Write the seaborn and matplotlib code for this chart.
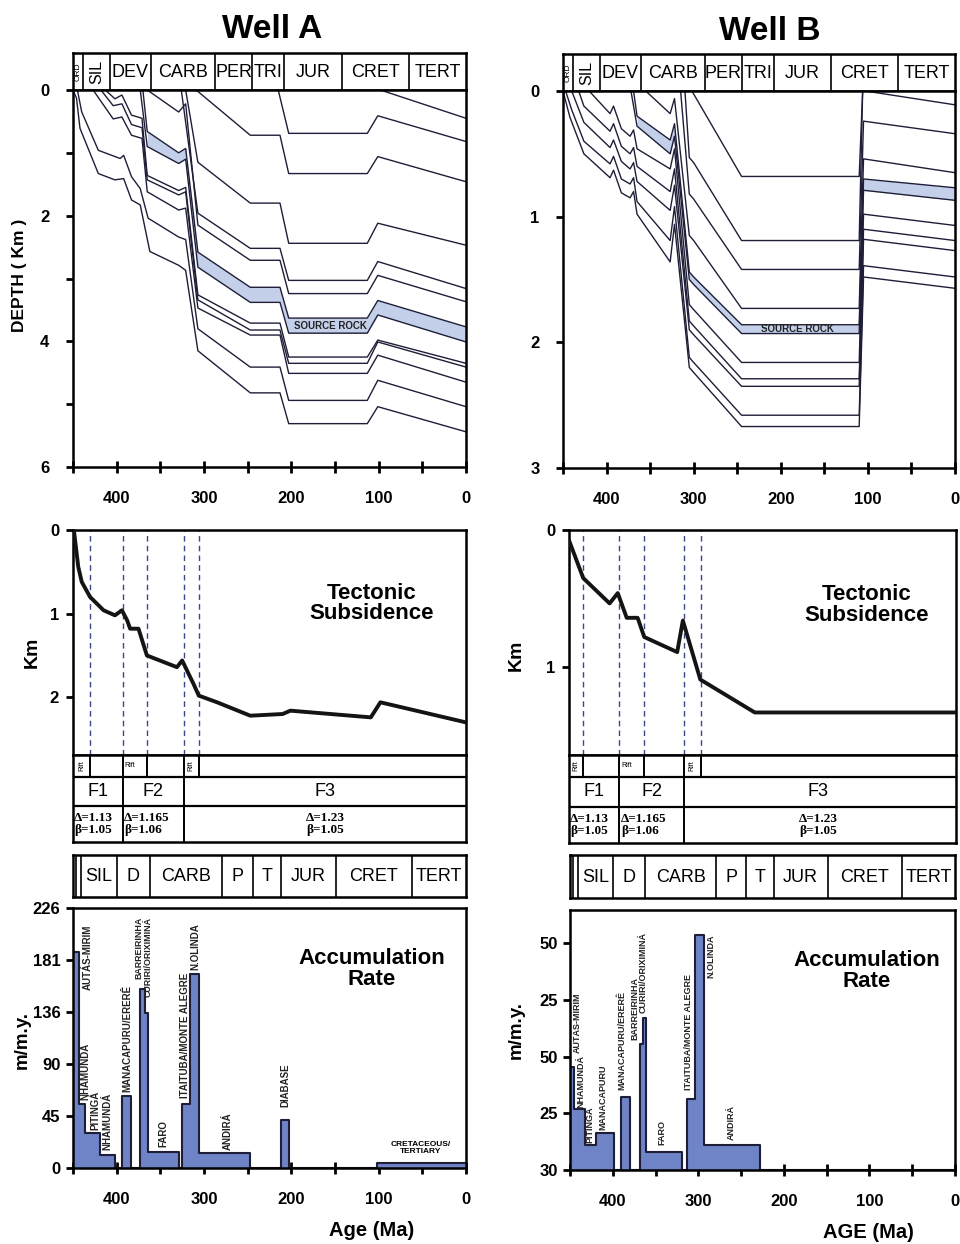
"""
Burial history, tectonic subsidence and accumulation rate for two wells
"""

import numpy as np
import pandas as pd
import matplotlib
matplotlib.use("Agg")
import matplotlib.pyplot as plt
import seaborn as sns

W, H = 960, 1244

# ---------------- data ----------------
# period strips (Ma)
top_edges = [450, 438, 408, 361, 287, 245, 208, 142, 65, 0]
top_names = ["ORD", "SIL", "DEV", "CARB", "PER", "TRI", "JUR", "CRET", "TERT"]
bot_edges = [450, 447, 441, 400, 362, 279, 244, 212, 149, 62, 0]
bot_names = ["", "", "SIL", "D", "CARB", "P", "T", "JUR", "CRET", "TERT"]

# burial history Well A: one list of ages and one of depths (km) per horizon
well_a_ages = [
    [98, 0],
    [215, 203, 113, 101, 0],
    [309, 247, 213, 203, 113, 101, 0],
    [321, 307, 247, 213, 203, 113, 101, 0],
    [326, 307, 247, 213, 203, 113, 101, 0],
    [365, 329, 321, 307, 247, 213, 203, 113, 101, 0],
    [370, 365, 329, 321, 307, 247, 213, 203, 113, 101, 0],
    [373, 365, 329, 321, 307, 247, 213, 203, 113, 101, 0],
    [413, 402, 394, 383, 371, 365, 329, 321, 307, 247, 213, 203, 113, 101, 0],
    [418, 404, 394, 383, 371, 365, 329, 321, 307, 247, 213, 203, 113, 101, 0],
    [427, 404, 394, 383, 371, 365, 329, 321, 307, 247, 213, 203, 113, 101, 0],
    [445, 440, 421, 396, 392, 383, 373, 364, 329, 321, 307, 247, 213, 203, 113, 101, 0],
    [450, 446, 442, 421, 402, 392, 383, 373, 362, 329, 321, 307, 247, 213, 203, 113, 101, 0],
]
well_a_depths = [
    [0, 0.45],
    [0, 0.69, 0.69, 0.41, 0.82],
    [0, 0.72, 0.72, 1.33, 1.33, 1.06, 1.46],
    [0, 1.15, 1.80, 1.80, 2.44, 2.44, 2.12, 2.47],
    [0, 1.96, 2.52, 2.52, 3.03, 3.03, 2.73, 3.16],
    [0, 0.35, 0.22, 2.15, 2.71, 2.71, 3.24, 3.24, 2.95, 3.37],
    [0, 0.66, 1.00, 0.93, 2.58, 3.14, 3.14, 3.63, 3.63, 3.35, 3.77],
    [0, 0.90, 1.17, 1.10, 2.82, 3.38, 3.38, 3.87, 3.87, 3.58, 4.01],
    [0, 0.14, 0.08, 0.40, 0.45, 1.36, 1.60, 1.55, 3.26, 3.71, 3.71, 4.25, 4.25, 3.98, 4.35],
    [0, 0.25, 0.22, 0.55, 0.60, 1.43, 1.67, 1.62, 3.34, 3.82, 3.82, 4.35, 4.35, 4.01, 4.41],
    [0, 0.46, 0.43, 0.72, 0.77, 1.62, 1.91, 1.88, 3.47, 3.90, 3.90, 4.51, 4.51, 4.22, 4.65],
    [0, 0.35, 0.96, 1.09, 1.04, 1.38, 1.57, 2.04, 2.34, 2.38, 3.80, 4.41, 4.41, 4.94, 4.94, 4.62, 5.04],
    [0, 0.13, 0.61, 1.33, 1.43, 1.41, 1.75, 1.83, 2.57, 2.79, 2.87, 4.15, 4.82, 4.82, 5.31, 5.31, 5.04, 5.44],
]
well_a_source = (6, 7)   # top / base of source rock

well_b_ages = [
    [103, 0],
    [302, 245, 110, 106],
    [310, 305, 300, 245, 110, 106],
    [315, 305, 300, 245, 110, 105, 0],
    [355, 327, 322, 305, 300, 245, 110, 105, 0],
    [369, 365, 327, 322, 305, 300, 245, 110, 105, 0],
    [372, 365, 327, 322, 305, 300, 245, 110, 105, 0],
    [420, 396, 392, 383, 373, 369, 365, 327, 322, 305, 300, 245, 110, 105, 0],
    [432, 426, 396, 392, 383, 373, 369, 365, 327, 322, 305, 300, 245, 110, 105, 0],
    [440, 426, 396, 392, 383, 373, 369, 365, 327, 322, 305, 300, 245, 110, 105, 0],
    [447, 440, 426, 396, 392, 383, 373, 369, 365, 327, 322, 305, 300, 245, 110, 105, 0],
    [450, 442, 426, 396, 392, 383, 373, 369, 365, 327, 322, 305, 300, 245, 110, 105, 0],
]
well_b_depths = [
    [0, 0.11],
    [0, 0.68, 0.68, 0],
    [0, 0.53, 0.57, 1.19, 1.19, 0],
    [0, 0.82, 0.86, 1.42, 1.42, 0.24, 0.34],
    [0, 0.18, 0.06, 1.15, 1.19, 1.73, 1.73, 0.54, 0.65],
    [0, 0.20, 0.39, 0.26, 1.44, 1.48, 1.86, 1.86, 0.70, 0.77],
    [0, 0.28, 0.50, 0.36, 1.50, 1.54, 1.93, 1.93, 0.79, 0.87],
    [0, 0.18, 0.12, 0.30, 0.36, 0.31, 0.46, 0.62, 0.46, 1.70, 1.74, 2.16, 2.16, 0.98, 1.07],
    [0, 0.12, 0.32, 0.26, 0.44, 0.50, 0.45, 0.60, 0.80, 0.62, 1.83, 1.87, 2.29, 2.29, 1.10, 1.19],
    [0, 0.25, 0.45, 0.39, 0.56, 0.62, 0.57, 0.72, 0.95, 0.75, 1.90, 1.94, 2.35, 2.35, 1.18, 1.27],
    [0, 0.15, 0.40, 0.58, 0.52, 0.70, 0.74, 0.69, 0.88, 1.19, 0.92, 2.12, 2.16, 2.58, 2.58, 1.39, 1.48],
    [0, 0.21, 0.50, 0.69, 0.63, 0.81, 0.85, 0.80, 0.98, 1.36, 1.06, 2.20, 2.24, 2.67, 2.67, 1.48, 1.57],
]
well_b_source = (5, 6)

# tectonic subsidence (km)
tect_a_age = [449, 444, 440, 430.5, 415, 402, 394, 388, 384.6, 375, 365.4, 331, 325, 317.6,
              312, 306, 285, 247, 210, 201, 109, 98, 0]
tect_a_km = [0, 0.44, 0.62, 0.80, 0.96, 1.02, 0.96, 1.08, 1.18, 1.18, 1.50, 1.64, 1.56, 1.72,
             1.84, 1.98, 2.06, 2.22, 2.20, 2.16, 2.24, 2.06, 2.30]
tect_b_age = [449.7, 433.5, 402.8, 393.3, 382.9, 370.2, 362.5, 324.2, 317.6, 297.3, 234, 0]
tect_b_km = [0.08, 0.35, 0.535, 0.46, 0.64, 0.64, 0.78, 0.89, 0.66, 1.09, 1.33, 1.33]

rift_a = [430.5, 393, 364.7, 323.4, 306]
rift_b = [434.2, 391.3, 363.3, 316.5, 296.6]
phase_names = ["F1", "F2", "F3"]
phase_params = ["\u0394=1.13\n\u03b2=1.05", "\u0394=1.165\n\u03b2=1.06", "\u0394=1.23\n\u03b2=1.05"]

# accumulation rate (m/m.y.), step edges in Ma
acc_a_edges = [450, 443, 436, 419, 402, 394, 383.4, 373, 367, 364.5, 329, 325, 316, 306,
               247, 211.6, 202.8, 101.4, 0]
acc_a_rate = [188, 56, 30, 11, 0, 63, 0, 156, 135, 14, 0, 56, 169, 13, 0, 42, 0, 4]
acc_b_edges = [450, 445.4, 432.7, 419.2, 398.9, 390.4, 379.6, 368.4, 364.6, 360.8, 319.3,
               313.5, 303.5, 293.1, 228.5, 0]
acc_b_rate = [45.6, 26.8, 10.9, 16.5, 0, 32, 0, 55.8, 67, 8.1, 0, 31.2, 103.6, 11, 0]

# formation names: text, age, rate at the foot of the (vertical) text
acc_a_labels = [("AUT\u00c1S-MIRIM", 432.8, 155), ("NHAMUND\u00c1", 436.2, 59), ("PITING\u00c1", 424.7, 33),
                ("NHAMUND\u00c1", 410.5, 15.6), ("MANACAPURU/ERER\u00ca", 388, 66),
                ("FARO", 346.7, 18), ("ITAITUBA/MONTE ALEGRE", 321.4, 61), ("N.OLINDA", 310, 172),
                ("ANDIR\u00c1", 273, 15.6), ("DIABASE", 206.6, 53)]
acc_b_labels = [("AUT\u00c1S-MIRIM", 441.9, 51.6), ("NHAMUND\u00c1", 437.3, 27.3), ("PITING\u00c1", 426.5, 11.9),
                ("MANACAPURU", 411.9, 17.6), ("MANACAPURU/ERER\u00ca", 388.8, 35.3),
                ("BARREIRINHA", 374.5, 57.3), ("CURIRI/ORIXIMIN\u00c1", 364.3, 69.2), ("FARO", 342.7, 11),
                ("ITAITUBA/MONTE ALEGRE", 311.5, 35.3), ("N.OLINDA", 285, 84.7), ("ANDIR\u00c1", 261.9, 13.2)]

# ---------------- style ----------------
sns.set_style("ticks")
plt.rcParams["font.family"] = ["Liberation Sans", "DejaVu Sans"]
plt.rcParams["text.color"] = "black"
plt.rcParams["xtick.color"] = "black"
plt.rcParams["ytick.color"] = "black"
ink = "#1e1e38"
band = "#c4d0ea"
fillc = "#6f84c6"

fig = plt.figure(figsize=(W / 100, H / 100), dpi=100)


def px_axes(x0, y0, x1, y1):
    return fig.add_axes([x0 / W, 1 - y1 / H, (x1 - x0) / W, (y1 - y0) / H])


def fig_text(x, y, s, **kw):
    fig.text(x / W, 1 - y / H, s, **kw)


def frame(ax, lw=1.8):
    for sp in ax.spines.values():
        sp.set_visible(True)
        sp.set_linewidth(lw)
        sp.set_color("black")


def age_ticks(ax):
    ax.set_xlim(450, 0)
    ax.set_xticks([400, 300, 200, 100, 0])
    ax.set_xticks([450, 350, 250, 150, 50], minor=True)
    ax.tick_params(axis="x", which="both", direction="inout", length=8, width=2,
                   labelsize=12, pad=13, top=False)
    for t in ax.get_xticklabels():
        t.set_fontweight("bold")


def bold_y(ax):
    for t in ax.get_yticklabels():
        t.set_fontweight("bold")


def draw_strip(ax, edges, names, small):
    ax.set_xlim(450, 0)
    ax.set_ylim(0, 1)
    ax.set_xticks([])
    ax.set_yticks([])
    frame(ax, 1.8)
    for e in edges[1:-1]:
        ax.axvline(e, color="black", lw=1.2)
    for a, b, n in zip(edges[:-1], edges[1:], names):
        if not n:
            continue
        if n in small:
            ax.text((a + b) / 2, 0.5, n, rotation=90, ha="center", va="center",
                    fontsize=small[n])
        else:
            ax.text((a + b) / 2, 0.48, n, ha="center", va="center", fontsize=13)


def draw_burial(ax, ages, depths, source, ymax, sr_label):
    src_top, src_bot = source
    ta = np.array(ages[src_top])[::-1]
    td = np.array(depths[src_top])[::-1]
    ba = np.array(ages[src_bot])[::-1]
    bd = np.array(depths[src_bot])[::-1]
    grid = np.linspace(0, 365, 600)
    ax.fill_between(grid, np.interp(grid, ta, td), np.interp(grid, ba, bd),
                    color=band, lw=0, zorder=1)
    rows = []
    for i, (a, d) in enumerate(zip(ages, depths)):
        for k, (x, y) in enumerate(zip(a, d)):
            rows.append({"horizon": i, "step": k, "age": x, "depth": y})
    df = pd.DataFrame(rows)
    sns.lineplot(data=df, x="age", y="depth", units="horizon", estimator=None, sort=False,
                 color=ink, linewidth=1.0, ax=ax, legend=False, zorder=2)
    ax.text(sr_label[0], sr_label[1], "SOURCE ROCK", fontsize=7, fontweight="bold",
            ha="center", va="center", color="#222", zorder=3)
    ax.set_ylim(ymax, 0)
    ax.set_xlabel("")
    ax.set_ylabel("")
    frame(ax)
    age_ticks(ax)


def draw_tect(ax, age, km, rifts, ymax, yt):
    for r in rifts:
        ax.axvline(r, color="#3a4888", lw=1.0, ls=(0, (4, 3)), zorder=1)
    sns.lineplot(x=age, y=km, sort=False, color="#141414", linewidth=2.8, ax=ax, zorder=3)
    ax.set_xlim(450, 0)
    ax.set_ylim(ymax, 0)
    ax.set_xticks([])
    ax.set_yticks(yt)
    ax.set_yticklabels([str(v) for v in yt])
    ax.tick_params(axis="y", direction="out", length=5, width=2, labelsize=12, pad=5)
    bold_y(ax)
    frame(ax)


def draw_table(ax, rifts, f3_center):
    ax.set_xlim(450, 0)
    ax.set_ylim(88, 0)
    ax.set_xticks([])
    ax.set_yticks([])
    frame(ax, 1.8)
    ax.axhline(22, color="black", lw=1.6)
    ax.axhline(52, color="black", lw=1.6)
    for r in rifts:
        ax.plot([r, r], [0, 22], color="black", lw=1.4)
    cells = [(450, rifts[0]), (rifts[1], rifts[2]), (rifts[3], rifts[4])]
    for i, (a, b) in enumerate(cells):
        if i == 1:
            ax.text(a - 2, 11, "Rift", fontsize=5, ha="left", va="center")
        else:
            ax.text((a + b) / 2, 11, "Rift", fontsize=5, rotation=90, ha="center", va="center")
    fb = [450, rifts[1], rifts[3], 0]
    for e in fb[1:-1]:
        ax.plot([e, e], [22, 88], color="black", lw=1.4)
    serif = ["Liberation Serif", "DejaVu Serif"]
    for i, name in enumerate(phase_names):
        cx = (fb[i] + fb[i + 1]) / 2 if i < 2 else f3_center
        ax.text(cx, 37, name, fontsize=13, ha="center", va="center")
        if i < 2:
            ax.text(fb[i] - 1.5, 70, phase_params[i], fontsize=9.5, ha="left", va="center",
                    family=serif, fontweight="bold", linespacing=1.0)
        else:
            ax.text(cx, 70, phase_params[i], fontsize=9.5, ha="center", va="center",
                    family=serif, fontweight="bold", linespacing=1.0)


def draw_acc(ax, edges, rate, ymax, yt, ytl, labels, fs):
    vals = rate + [rate[-1]]
    ax.fill_between(edges, vals, 0, step="post", color=fillc, lw=0, zorder=1)
    ax.step(edges, vals, where="post", color=ink, lw=1.5, zorder=2)
    for s, x, y in labels:
        ax.text(x, y, s, rotation=90, fontsize=fs, fontweight="bold", ha="center",
                va="bottom", color="#222", zorder=3)
    ax.set_ylim(0, ymax)
    ax.set_yticks(yt)
    ax.set_yticklabels(ytl)
    ax.tick_params(axis="y", direction="out", length=5, width=2, labelsize=12, pad=4)
    bold_y(ax)
    frame(ax)
    age_ticks(ax)


# ---------------- Well A ----------------
fig_text(272, 30, "Well A", fontsize=24, fontweight="bold", ha="center", va="center")
ax = px_axes(73, 53, 466, 90)
draw_strip(ax, top_edges, top_names, {"ORD": 6, "SIL": 11.5})
ax = px_axes(73, 90, 466, 467)
draw_burial(ax, well_a_ages, well_a_depths, well_a_source, 6, (155, 3.76))
ax.set_yticks([0, 1, 2, 3, 4, 5, 6])
ax.set_yticklabels(["0", "", "2", "", "4", "", "6"])
ax.tick_params(axis="y", direction="out", length=5, width=2, labelsize=12, pad=12)
bold_y(ax)

ax = px_axes(73, 530, 466, 755)
draw_tect(ax, tect_a_age, tect_a_km, rift_a, 2.69, [0, 1, 2])
ax.text(0.76, 0.675, "Tectonic\nSubsidence", transform=ax.transAxes, fontsize=16,
        fontweight="bold", ha="center", va="center", linespacing=0.95)
ax = px_axes(73, 755, 466, 842)
draw_table(ax, rift_a, 161)

ax = px_axes(73, 855, 466, 897)
draw_strip(ax, bot_edges, bot_names, {})
ax = px_axes(73, 908, 466, 1168)
draw_acc(ax, acc_a_edges, acc_a_rate, 226, [0, 45.2, 90.4, 135.6, 180.8, 226],
         ["0", "45", "90", "136", "181", "226"], acc_a_labels, 7)
ax.text(369, 218, "BARREIRINHA\nCURIRI/ORIXIMIN\u00c1", rotation=90, fontsize=6.4,
        fontweight="bold", ha="center", va="top", multialignment="right",
        linespacing=1.0, color="#222")
ax.text(51.6, 17, "CRETACEOUS/\nTERTIARY", fontsize=6, fontweight="bold", ha="center",
        va="center", linespacing=1.0)
ax.text(0.76, 0.765, "Accumulation\nRate", transform=ax.transAxes, fontsize=16,
        fontweight="bold", ha="center", va="center", linespacing=1.0)

fig_text(20, 275, "DEPTH ( Km )", rotation=90, fontsize=12.5, fontweight="bold", ha="center", va="center")
fig_text(32, 652, "Km", rotation=90, fontsize=14, fontweight="bold", ha="center", va="center")
fig_text(22, 1040, "m/m.y.", rotation=90, fontsize=13.5, fontweight="bold", ha="center", va="center")
fig_text(372, 1230, "Age (Ma)", fontsize=14.5, fontweight="bold", ha="center", va="center")

# ---------------- Well B ----------------
fig_text(770, 32, "Well B", fontsize=24, fontweight="bold", ha="center", va="center")
ax = px_axes(563, 54, 955, 91)
draw_strip(ax, top_edges, top_names, {"ORD": 6, "SIL": 11.5})
ax = px_axes(563, 91, 955, 468)
draw_burial(ax, well_b_ages, well_b_depths, well_b_source, 3, (181, 1.895))
ax.set_yticks([0, 1, 2, 3])
ax.set_yticklabels(["0", "1", "2", "3"])
ax.tick_params(axis="y", direction="out", length=5, width=2, labelsize=12, pad=12)
bold_y(ax)

ax = px_axes(569, 530, 956, 755)
draw_tect(ax, tect_b_age, tect_b_km, rift_b, 1.64, [0, 1])
ax.text(0.77, 0.667, "Tectonic\nSubsidence", transform=ax.transAxes, fontsize=16,
        fontweight="bold", ha="center", va="center", linespacing=0.95)
ax = px_axes(569, 755, 956, 843)
draw_table(ax, rift_b, 160)

ax = px_axes(570, 855, 955, 898)
draw_strip(ax, bot_edges, bot_names, {})
ax = px_axes(570, 910, 955, 1170)
draw_acc(ax, acc_b_edges, acc_b_rate, 114.7, [0, 25, 50, 75, 100],
         ["30", "25", "50", "25", "50"], acc_b_labels, 6.5)
ax.text(0.77, 0.765, "Accumulation\nRate", transform=ax.transAxes, fontsize=16,
        fontweight="bold", ha="center", va="center", linespacing=1.0)

fig_text(516, 655, "Km", rotation=90, fontsize=14, fontweight="bold", ha="center", va="center")
fig_text(516, 1030, "m/m.y.", rotation=90, fontsize=13.5, fontweight="bold", ha="center", va="center")
fig_text(868, 1232, "AGE (Ma)", fontsize=14.5, fontweight="bold", ha="center", va="center")

fig.savefig("out.png", dpi=100)
